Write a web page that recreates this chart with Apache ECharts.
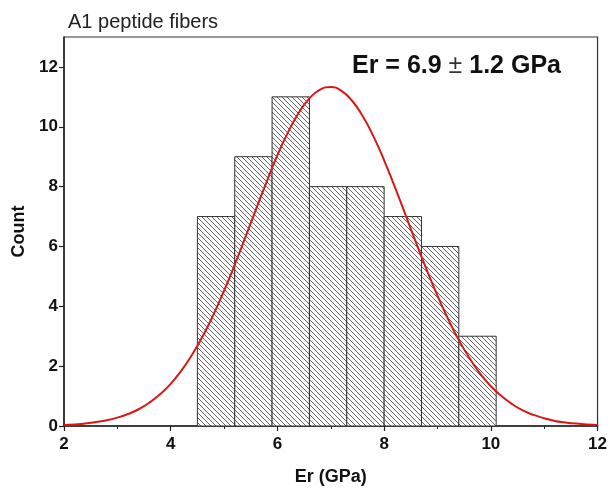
<!DOCTYPE html>
<html>
<head>
<meta charset="utf-8">
<script src="https://cdn.jsdelivr.net/npm/echarts@6/dist/echarts.min.js"></script>
<style>html,body{margin:0;padding:0;background:#fff;}#c{width:610px;height:491px;}</style>
</head>
<body>
<div id="c"></div>
<script>
// Histogram bins (GPa) and counts
const binStarts = [4.5, 5.2, 5.9, 6.6, 7.3, 8.0, 8.7, 9.4];
const binEnds   = [5.2, 5.9, 6.6, 7.3, 8.0, 8.7, 9.4, 10.1];
const counts    = [7, 9, 11, 8, 8, 7, 6, 3];
// Fitted curve
const curveX = [2.0,2.2,2.4,2.6,2.8,3.0,3.2,3.4,3.6,3.8,4.0,4.2,4.4,4.6,4.8,5.0,5.2,5.4,5.6,5.8,6.0,6.2,6.4,6.6,6.8,7.0,7.2,7.4,7.6,7.8,8.0,8.2,8.4,8.6,8.8,9.0,9.2,9.4,9.6,9.8,10.0,10.2,10.4,10.6,10.8,11.0,11.2,11.4,11.6,11.8,12.0];
const curveY = [0.03,0.05,0.08,0.13,0.19,0.28,0.40,0.56,0.78,1.06,1.41,1.85,2.38,3.00,3.72,4.52,5.39,6.31,7.25,8.17,9.05,9.82,10.47,10.95,11.24,11.33,11.20,10.87,10.35,9.68,8.88,7.99,7.06,6.12,5.21,4.35,3.57,2.87,2.27,1.75,1.33,1.00,0.73,0.52,0.37,0.26,0.17,0.12,0.08,0.05,0.03];
const xTicks = [2, 4, 6, 8, 10, 12];
const yTicks = [0, 2, 4, 6, 8, 10, 12];
const titleText = 'A1 peptide fibers';
const xName = 'Er (GPa)';
const yName = 'Count';

// hatch pattern
const tile = document.createElement('canvas');
const s = 5;
tile.width = s; tile.height = s;
const ctx = tile.getContext('2d');
ctx.fillStyle = '#ffffff';
ctx.fillRect(0, 0, s, s);
ctx.strokeStyle = '#666666';
ctx.lineWidth = 1;
for (let k = -1; k <= 1; k++) {
  ctx.beginPath();
  ctx.moveTo(k * s, 0);
  ctx.lineTo(k * s + s, s);
  ctx.stroke();
}
const hatch = { image: tile, repeat: 'repeat' };

const barData = binStarts.map((b, i) => [b, binEnds[i], counts[i]]);
const lineData = curveX.map((x, i) => [x, curveY[i]]);

const FONT = 'Liberation Sans, Arial, sans-serif';
const chart = echarts.init(document.getElementById('c'), null, { renderer: 'canvas' });
const labelStyle = { fontFamily: FONT, fontWeight: 'bold', fontSize: 17, color: '#111' };
chart.setOption({
  animation: false,
  backgroundColor: '#fff',
  title: [
    { text: titleText, left: 63, top: 7, textStyle: { fontFamily: FONT, fontWeight: 'normal', fontSize: 20, color: '#222' } },
    { text: 'Er = 6.9 {pm|±} 1.2 GPa', left: 347, top: 49, textStyle: { fontFamily: FONT, fontWeight: 'bold', fontSize: 25, color: '#111',
      rich: { pm: { fontFamily: FONT, fontWeight: 'normal', fontSize: 25, color: '#333' } } } }
  ],
  grid: { left: 64, right: 11, top: 37, bottom: 60, show: true, borderColor: '#333', borderWidth: 1.2, backgroundColor: 'transparent' },
  xAxis: {
    type: 'value', min: xTicks[0], max: xTicks[xTicks.length - 1], interval: 2,
    name: xName, nameLocation: 'middle', nameGap: 42,
    nameTextStyle: { fontFamily: FONT, fontWeight: 'bold', fontSize: 18, color: '#111' },
    axisLine: { lineStyle: { color: '#222', width: 1.5 } },
    axisTick: { show: true, inside: false, length: 5, lineStyle: { color: '#222', width: 1.2 } },
    minorTick: { show: true, splitNumber: 2, length: 3, lineStyle: { color: '#222', width: 1 } },
    splitLine: { show: false },
    axisLabel: Object.assign({ margin: 10 }, labelStyle)
  },
  yAxis: {
    type: 'value', min: 0, max: 13, interval: 2,
    name: yName, nameLocation: 'middle', nameGap: 35,
    nameTextStyle: { fontFamily: FONT, fontWeight: 'bold', fontSize: 18, color: '#111' },
    axisLine: { show: true, lineStyle: { color: '#222', width: 1.5 } },
    axisTick: { show: true, inside: false, length: 5, lineStyle: { color: '#222', width: 1.2 } },
    splitLine: { show: false },
    axisLabel: Object.assign({ margin: 6, showMaxLabel: false, formatter: v => (yTicks.indexOf(v) >= 0 ? String(v) : '') }, labelStyle)
  },
  series: [
    {
      type: 'custom',
      data: barData,
      encode: { x: [0, 1], y: 2 },
      renderItem: function (params, api) {
        const p0 = api.coord([api.value(0), api.value(2)]);
        const p1 = api.coord([api.value(1), 0]);
        return {
          type: 'rect',
          shape: { x: p0[0], y: p0[1], width: p1[0] - p0[0], height: p1[1] - p0[1] },
          style: { fill: hatch, stroke: '#333', lineWidth: 1 }
        };
      },
      z: 2
    },
    {
      type: 'line',
      data: lineData,
      smooth: true,
      showSymbol: false,
      lineStyle: { color: '#d81818', width: 2 },
      z: 3
    }
  ]
});
</script>
</body>
</html>
